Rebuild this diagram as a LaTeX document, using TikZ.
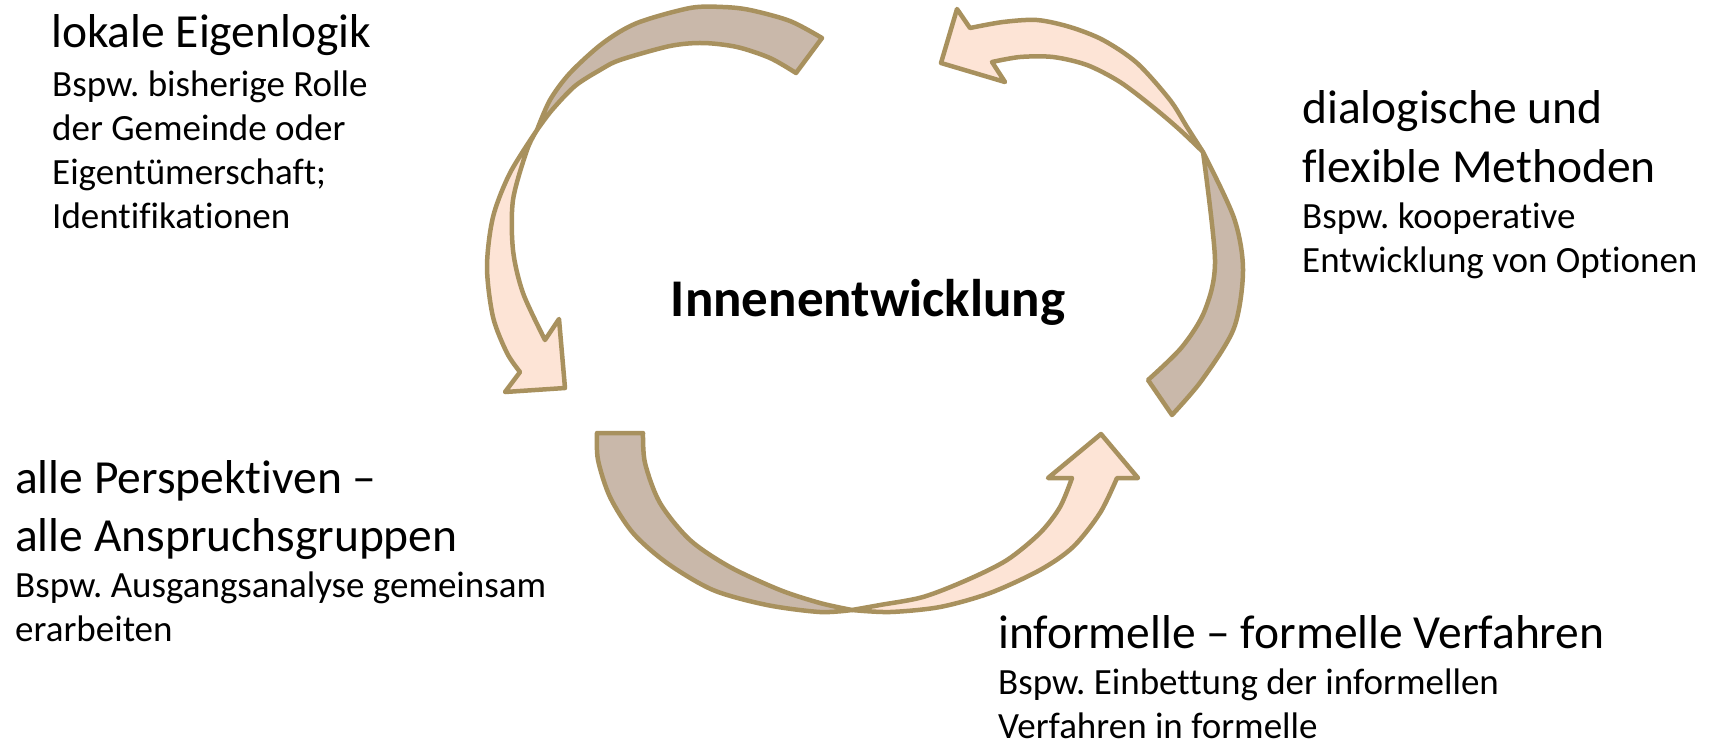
\documentclass[tikz,border=0pt]{standalone}
\usepackage{fontspec}
\setmainfont{Carlito}[Ligatures={NoCommon,NoContextual,NoRequired}]
\definecolor{abrown}{RGB}{201,184,170}
\definecolor{apink}{RGB}{253,228,214}
\definecolor{aline}{RGB}{168,145,94}
\frenchspacing
\begin{document}
\begin{tikzpicture}[x=1pt,y=-1pt,
  back/.style={fill=abrown,draw=aline,line width=4.5pt,line join=round},
  front/.style={fill=apink,draw=aline,line width=4.5pt,line join=round},
  big/.style={font=\fontsize{47.5}{57}\selectfont,inner sep=0pt,anchor=base west},
  small/.style={font=\fontsize{37}{44}\selectfont,inner sep=0pt,anchor=base west}]
\useasboundingbox[fill=white] (0,0) rectangle (1718,748);

% arrow 1 (top left)
\path[back] plot[smooth] coordinates {(822,38) (790,21) (750,10) (723,7) (690,8) (637,23) (603,43) (570,73) (550,100) (537,130)}
  -- plot[smooth] coordinates {(537,130) (552,110) (575,86) (600,70) (620,60) (670,46) (703,43) (737,47) (770,58) (796,73)} -- cycle;
\path[front] plot[smooth] coordinates {(537,130) (510,173) (493,217) (487,267) (493,317) (507,353) (520,372)}
  -- (505,392) -- (565,388) -- (559,319) -- (545,340)
  -- plot[smooth] coordinates {(545,340) (523,293) (513,250) (513,200) (527,150) (537,130)} -- cycle;

% arrow 2 (top right)
\path[front] (957,9) -- (941,63) -- (1005,82) -- (992,62)
  -- plot[smooth] coordinates {(992,62) (1020,57) (1053,57) (1087,65) (1120,82) (1153,107) (1180,130) (1203,152)}
  -- plot[smooth] coordinates {(1203,152) (1187,127) (1170,100) (1137,63) (1103,40) (1070,27) (1037,20) (1003,22) (970,28)} -- cycle;
\path[back] plot[smooth] coordinates {(1203,152) (1234,218) (1243,270) (1234,328) (1202,380) (1172,415)}
  -- (1148,380)
  -- plot[smooth] coordinates {(1148,380) (1182,347) (1205,310) (1215,260) (1203,152)} -- cycle;

% arrow 3 (bottom)
\path[back] (597,433) -- (643,433)
  -- plot[smooth] coordinates {(643,433) (645,463) (660,503) (690,540) (730,567) (780,590) (820,603) (852,610)}
  -- plot[smooth] coordinates {(852,610) (820,612) (767,605) (713,590) (667,563) (633,533) (610,497) (598,460) (597,433)} -- cycle;
\path[front] plot[smooth] coordinates {(852,610) (890,612) (940,607) (990,593) (1040,570) (1073,547) (1100,513) (1117,478)}
  -- (1138,478) -- (1101,434) -- (1048,478) -- (1072,478)
  -- plot[smooth] coordinates {(1072,478) (1060,507) (1040,533) (1007,560) (967,580) (923,597) (880,605) (852,610)} -- cycle;

% texts
\node[big] (le) at (51,47) {lokale Eigenlogik};
\node[small] (le1) at (52,96) {Bspw. bisherige Rolle};
\node[small] (le2) at (52,140) {der Gemeinde oder};
\node[small] (le3) at (52,184) {Eigentümerschaft;};
\node[small] (le4) at (52,228) {Identifikationen};

\node[big] (dm1) at (1302,123) {dialogische und};
\node[big] (dm2) at (1302,182) {flexible Methoden};
\node[small] (dm3) at (1302,228) {Bspw. kooperative};
\node[small] (dm4) at (1302,272) {Entwicklung von Optionen};

\node[font=\bfseries\fontsize{53}{64}\selectfont,inner sep=0pt,anchor=base] (c) at (868,316) {Innenentwicklung};

\node[big] (ap1) at (15,493) {alle Perspektiven –};
\node[big] (ap2) at (15,551) {alle Anspruchsgruppen};
\node[small] (ap3) at (15,597) {Bspw. Ausgangsanalyse gemeinsam};
\node[small] (ap4) at (15,641) {erarbeiten};

\node[big] (if1) at (998,648) {informelle – formelle Verfahren};
\node[small] (if2) at (998,694) {Bspw. Einbettung der informellen};
\node[small] (if3) at (998,738) {Verfahren in formelle};
\end{tikzpicture}
\end{document}
